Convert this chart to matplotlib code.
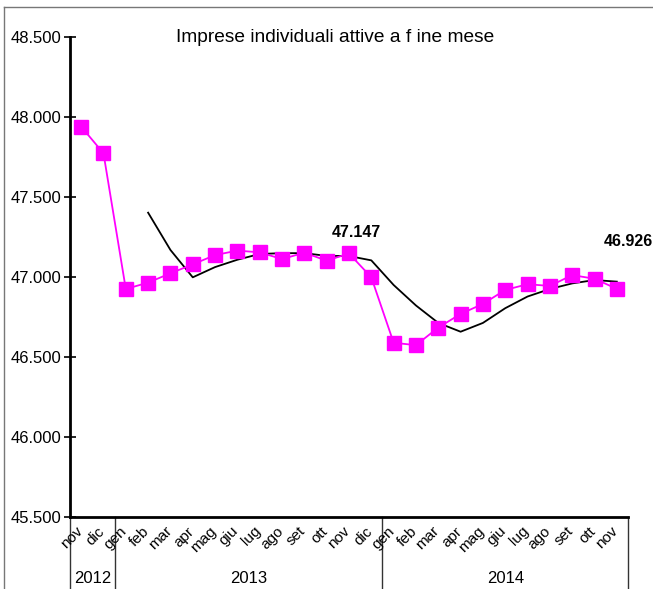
import numpy as np
import matplotlib.pyplot as plt
from matplotlib.lines import Line2D
from matplotlib.ticker import FuncFormatter

plt.rcParams['font.family'] = ['Liberation Sans', 'DejaVu Sans']

# Months from nov 2012 to nov 2014
months = ["nov", "dic",
          "gen", "feb", "mar", "apr", "mag", "giu", "lug", "ago", "set", "ott", "nov", "dic",
          "gen", "feb", "mar", "apr", "mag", "giu", "lug", "ago", "set", "ott", "nov"]
years = ["2012", "2013", "2014"]
year_len = [2, 12, 11]

# Active individual firms at end of month
imprese = [47940, 47773,
           46925, 46965, 47023, 47079, 47137, 47165, 47154, 47112, 47152, 47102, 47147, 46998,
           46589, 46574, 46684, 46769, 46832, 46919, 46955, 46944, 47012, 46989, 46926]

# Trend line (starts at feb 2013)
trend = [np.nan, np.nan,
         np.nan, 47402, 47169, 46998, 47062, 47108, 47144, 47149, 47149, 47132, 47131, 47104,
         46950, 46822, 46713, 46658, 46713, 46805, 46878, 46925, 46960, 46981, 46971]

x = np.arange(len(months))

fig = plt.figure(figsize=(6.53, 5.89), dpi=100)
ax = fig.add_axes([70/653, 1 - 517/589, 558/653, 480/589])

ax.plot(x, trend, color="black", lw=1.3, zorder=2)
ax.plot(x, imprese, color="#FF00FF", lw=1.3, marker="s", ms=9.5,
        mec="#FF00FF", mfc="#FF00FF", zorder=3)

ax.set_xlim(-0.5, len(months) - 0.5)
ax.set_ylim(45500, 48500)
ax.set_yticks(np.arange(45500, 48501, 500))
ax.yaxis.set_major_formatter(FuncFormatter(lambda v, p: f"{v/1000:.3f}"))
ax.tick_params(axis="y", direction="inout", length=8, width=1.2, labelsize=12, pad=2)
ax.set_xticks([])

for s in ["top", "right"]:
    ax.spines[s].set_visible(False)
ax.spines["left"].set_linewidth(2)
ax.spines["bottom"].set_linewidth(2)

# month labels
for i, m in enumerate(months):
    ax.text(i - 0.05, -0.025, m, transform=ax.get_xaxis_transform(), rotation=45,
            rotation_mode="anchor", ha="right", va="center", fontsize=11)

# year separators and labels
trans = ax.get_xaxis_transform()
bounds = np.concatenate([[0], np.cumsum(year_len)]) - 0.5
for b in bounds:
    ax.add_line(Line2D([b, b], [0, -0.16], transform=trans, color="#333333", lw=1, clip_on=False))
for k, yr in enumerate(years):
    ax.text((bounds[k] + bounds[k + 1]) / 2, -0.128, yr, transform=trans,
            ha="center", va="center", fontsize=12)

# annotations for last values
ax.annotate(f"{imprese[12]/1000:.3f}", (x[12], imprese[12]), xytext=(5, 15),
            textcoords="offset points", ha="center", va="center", fontsize=11.5,
            fontweight="bold")
ax.annotate(f"{imprese[-1]/1000:.3f}", (x[-1], imprese[-1]), xytext=(8, 34),
            textcoords="offset points", ha="center", va="center", fontsize=11.5,
            fontweight="bold", annotation_clip=False)

ax.text(0.475, 1.0, "Imprese individuali attive a f ine mese", transform=ax.transAxes,
        ha="center", va="center", fontsize=13.8)

# outer frame
fig.add_artist(Line2D([4/653, 4/653], [0, 1 - 7/589], color="#777777", lw=1))
fig.add_artist(Line2D([4/653, 1], [1 - 7/589, 1 - 7/589], color="#777777", lw=1))

plt.savefig("out.png", dpi=100)
